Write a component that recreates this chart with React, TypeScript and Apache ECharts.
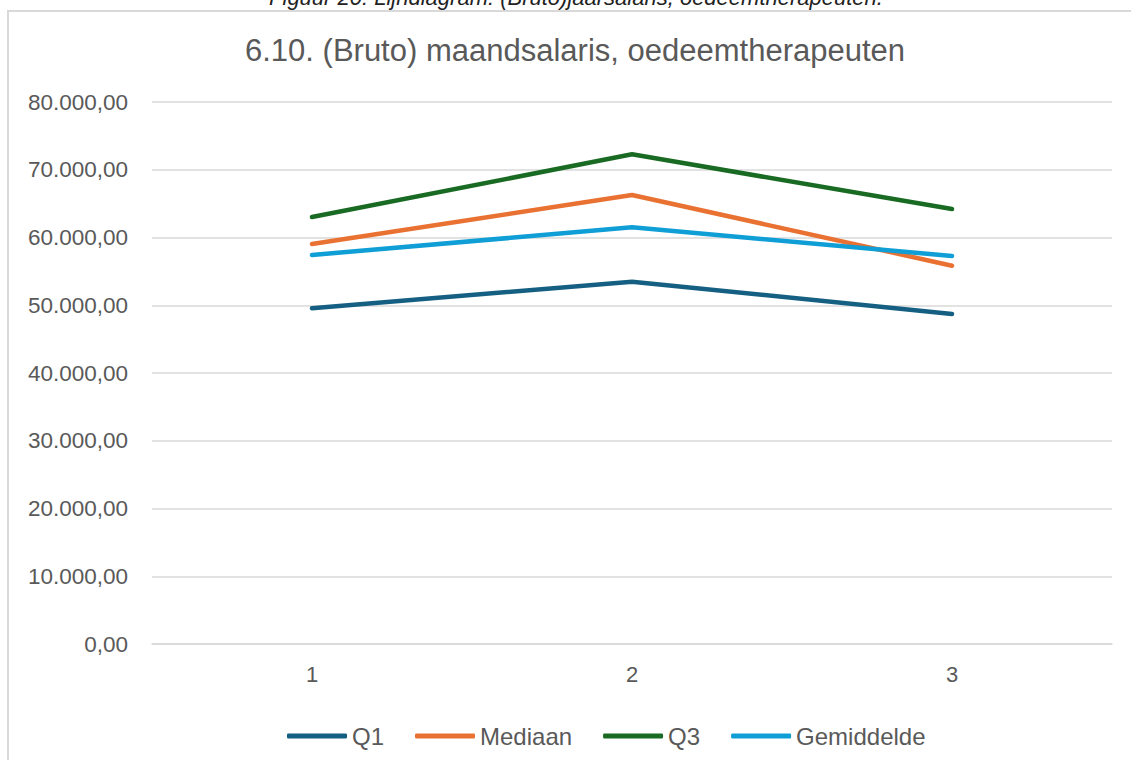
import React, { useEffect, useRef } from "react";
import * as echarts from "echarts";

const categories = ["1", "2", "3"];
const q1 = [49550, 53480, 48700];
const mediaan = [59040, 66270, 55840];
const q3 = [63030, 72280, 64200];
const gemiddelde = [57420, 61500, 57270];
const yTicks = { min: 0, max: 80000, interval: 10000 };

const titleText = "6.10. (Bruto) maandsalaris, oedeemtherapeuten";
const captionText = "Figuur 20: Lijndiagram: (Bruto)jaarsalaris, oedeemtherapeuten.";

const FONT = "'Liberation Sans', Arial, sans-serif";
const TEXT = "#595959";

function fmt(v: number): string {
  const parts = v.toFixed(2).split(".");
  const int = parts[0].replace(/\B(?=(\d{3})+(?!\d))/g, ".");
  return int + "," + parts[1];
}

export default function App() {
  const ref = useRef<HTMLDivElement>(null);
  useEffect(() => {
    if (!ref.current) return;
    const chart = echarts.init(ref.current, undefined, { renderer: "svg" });
    const mk = (name: string, data: number[], color: string) => ({
      name,
      type: "line",
      data,
      symbol: "none",
      smooth: false,
      lineStyle: { color, width: 4.5, cap: "round", join: "round" },
      itemStyle: { color },
    });
    chart.setOption({
      animation: false,
      backgroundColor: "#ffffff",
      graphic: [
        {
          type: "rect",
          shape: { x: 8, y: 11, width: 1130, height: 760 },
          style: { fill: "none", stroke: "#D9D9D9", lineWidth: 2 },
          silent: true,
        },
        {
          type: "text",
          x: 576,
          y: 8,
          style: {
            text: captionText,
            font: `italic 22px ${FONT}`,
            fill: "#222222",
            align: "center",
            verticalAlign: "bottom",
          },
        },
        {
          type: "text",
          x: 575,
          y: 50,
          style: {
            text: titleText,
            font: `31px ${FONT}`,
            fill: TEXT,
            align: "center",
            verticalAlign: "middle",
          },
        },
      ],
      grid: { left: 152, right: 19, top: 102, bottom: 116 },
      xAxis: {
        type: "category",
        data: categories,
        boundaryGap: true,
        axisLine: { show: true, lineStyle: { color: "#D9D9D9", width: 1.5 } },
        axisTick: { show: false },
        axisLabel: { color: TEXT, fontSize: 22, fontFamily: FONT, margin: 19 },
      },
      yAxis: {
        type: "value",
        min: yTicks.min,
        max: yTicks.max,
        interval: yTicks.interval,
        axisLine: { show: false },
        axisTick: { show: false },
        splitLine: { lineStyle: { color: "#D9D9D9", width: 1.5 } },
        axisLabel: {
          color: TEXT,
          fontSize: 22.5,
          fontFamily: FONT,
          margin: 24,
          formatter: (v: number) => fmt(v),
        },
      },
      legend: {
        data: ["Q1", "Mediaan", "Q3", "Gemiddelde"],
        left: 282,
        top: 719,
        itemWidth: 60,
        itemHeight: 5,
        itemGap: 31,
        icon: "roundRect",
        textStyle: { color: TEXT, fontSize: 24, fontFamily: FONT },
      },
      series: [
        mk("Q1", q1, "#156082"),
        mk("Mediaan", mediaan, "#E97132"),
        mk("Q3", q3, "#196B24"),
        mk("Gemiddelde", gemiddelde, "#0F9ED5"),
      ],
    });
    return () => chart.dispose();
  }, []);
  return (
    <div
      ref={ref}
      style={{ position: "fixed", left: 0, top: 0, width: 1131, height: 760 }}
    />
  );
}
